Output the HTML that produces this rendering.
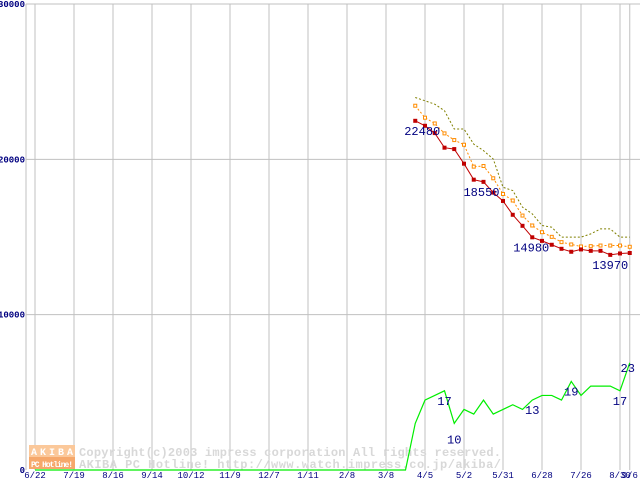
<!DOCTYPE html>
<html><head><meta charset="utf-8"><style>
body{margin:0;background:#fff;width:640px;height:480px;overflow:hidden}
svg{display:block}
text{font-family:"Liberation Mono","DejaVu Sans Mono",monospace}
</style></head><body>
<svg id="chart" width="640" height="480" viewBox="0 0 640 480"></svg>
<script>
const xLabels=["6/22","7/19","8/16","9/14","10/12","11/9","12/7","1/11","2/8","3/8","4/5","5/2","5/31","6/28","7/26","8/30","9/6"];
const yTicks=[0,10000,20000,30000];
const minPrice=[22480,22160,21690,20750,20660,19720,18690,18550,17860,17320,16430,15720,14980,14750,14500,14240,14050,14200,14110,14110,13850,13940,13970];
const avgPrice=[23450,22680,22310,21670,21240,20940,19530,19570,18780,17770,17350,16380,15740,15310,15010,14670,14520,14390,14410,14450,14450,14450,14370];
const maxPrice=[23980,23770,23550,23130,21950,21950,20980,20560,20020,18200,17990,16920,16490,15740,15630,14990,14990,14990,15200,15520,15520,14990,14990];
const shopCount=[0,0,0,0,0,0,0,0,0,0,0,0,0,0,0,0,0,0,0,0,0,0,0,0,0,0,0,0,0,0,0,0,0,0,0,0,0,0,0,10,15,16,17,10,13,12,15,12,13,14,13,15,16,16,15,19,16,18,18,18,17,23];
const priceStart=39;
const minLabels=[[0,"22480",7],[7,"18550",-2],[12,"14980",-1],[20,"13970",0]];
const countLabels=[[42,"17"],[43,"10"],[51,"13"],[55,"19"],[60,"17"],[61,"23"]];

const NS="http://www.w3.org/2000/svg",svg=document.getElementById('chart');
const X=i=>35+i*9.75, Y=v=>470-v*466/30000;
function el(t,a,p){const e=document.createElementNS(NS,t);for(const k in a)e.setAttribute(k,a[k]);(p||svg).appendChild(e);return e;}
el('line',{x1:26,y1:4,x2:640,y2:4,stroke:'#c0c0c0'});
el('line',{x1:26,y1:4,x2:26,y2:470,stroke:'#c0c0c0'});
yTicks.forEach(v=>{
 if(v>0&&v<30000){const l=el('line',{x1:26,y1:Y(v),x2:640,y2:Y(v),stroke:'#c0c0c0'});
 
 }
 const t=el('text',{x:25,y:Y(v)+3,'text-anchor':'end','font-size':'9','font-weight':'bold',fill:'#000080'});
 
 
 t.textContent=v;
});
xLabels.forEach((s,k)=>{
 const i=k<16?k*4:61;
 const l=el('line',{x1:X(i),y1:4,x2:X(i),y2:470,stroke:'#c0c0c0'});
 
 
 const t=el('text',{x:X(i),y:478,'text-anchor':'middle','font-size':'9',fill:'#000080'});
 
 
 t.textContent=s;
});
const g=el('g',{});


el('rect',{x:29,y:445,width:46,height:12,fill:'#fbc89a'},g);
el('rect',{x:29,y:457,width:46,height:12,fill:'#f6a86b'},g);
const a1=el('text',{x:31,y:455,'font-size':'10','font-weight':'bold',fill:'#fff','textLength':'42'},g);a1.textContent='AKIBA';
const a2=el('text',{x:31,y:467,'font-size':'8','font-weight':'bold',fill:'#fff','textLength':'42'},g);a2.textContent='PC Hotline!';
const c1=el('text',{x:79,y:456,'font-size':'12','font-weight':'bold',fill:'#d8d8d8','textLength':'422'},g);c1.textContent='Copyright(c)2003 impress corporation All rights reserved.';
const c2=el('text',{x:79,y:468,'font-size':'12','font-weight':'bold',fill:'#d8d8d8','textLength':'422'},g);c2.textContent='AKIBA PC Hotline!  http://www.watch.impress.co.jp/akiba/';
function pts(arr,off){return arr.map((v,k)=>X(k+off)+','+Y(v)).join(' ');}
const gl=el('polyline',{points:pts(shopCount.map(v=>v*300),0),fill:'none',stroke:'#00ee00','stroke-width':1.2});


const ml=el('polyline',{points:pts(maxPrice,priceStart),fill:'none',stroke:'#808000','stroke-dasharray':'2,2'});


const al=el('polyline',{points:pts(avgPrice,priceStart),fill:'none',stroke:'#ff8c00','stroke-dasharray':'2,2'});


avgPrice.forEach((v,k)=>{const r=el('rect',{x:X(k+priceStart)-1.5,y:Y(v)-1.5,width:3,height:3,fill:'#fff',stroke:'#ff8c00'});
 
 });
const rl=el('polyline',{points:pts(minPrice,priceStart),fill:'none',stroke:'#c00000'});


minPrice.forEach((v,k)=>{const r=el('rect',{x:X(k+priceStart)-2,y:Y(v)-2,width:4,height:4,fill:'#c00000'});
 
 });
minLabels.forEach(([k,s,dx])=>{const t=el('text',{x:X(k+priceStart)+dx,y:Y(minPrice[k])+14,'text-anchor':'middle','font-size':'12',fill:'#000080'});
 
 
 t.textContent=s;});
countLabels.forEach(([i,s])=>{const t=el('text',{x:X(i)+(i==61?-2:0),y:Y(shopCount[i]*300)+(i==43?20:i==61?9:14),'text-anchor':'middle','font-size':'12',fill:'#000080'});
 
 
 t.textContent=s;});
</script>
</body></html>
